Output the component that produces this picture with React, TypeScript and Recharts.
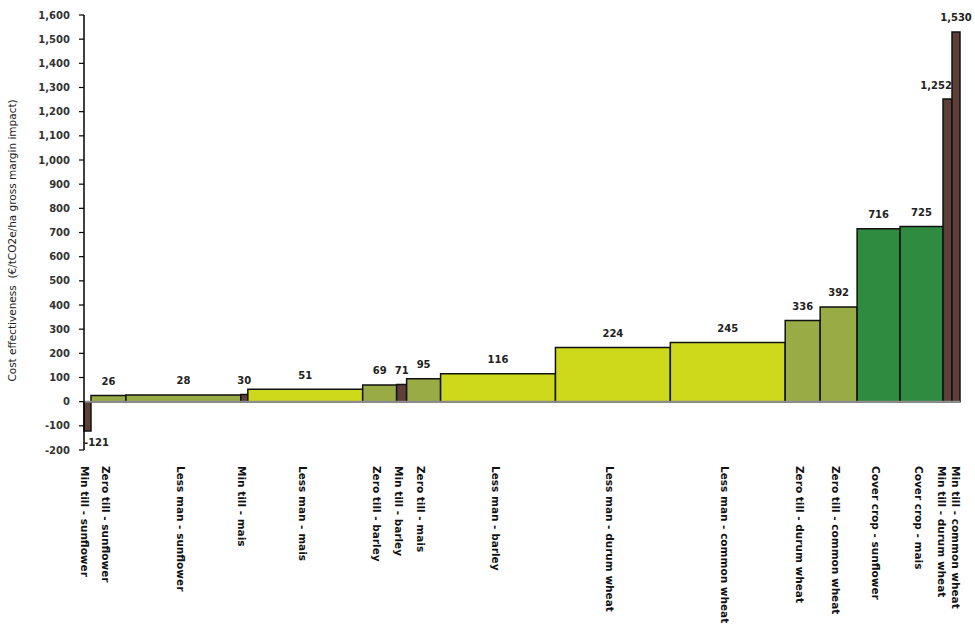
import React from 'react';
import {
  ComposedChart,
  XAxis,
  YAxis,
  ReferenceArea,
  ReferenceLine,
  Scatter,
  Label,
} from 'recharts';

// Measures in the order they appear along the curve
const categories = [
  'Min till - sunflower',
  'Zero till - sunflower',
  'Less man - sunflower',
  'Min till - mais',
  'Less man - mais',
  'Zero till - barley',
  'Min till - barley',
  'Zero till - mais',
  'Less man - barley',
  'Less man - durum wheat',
  'Less man - common wheat',
  'Zero till - durum wheat',
  'Zero till - common wheat',
  'Cover crop - sunflower',
  'Cover crop - mais',
  'Min till - durum wheat',
  'Min till - common wheat',
];

// Cost effectiveness (€/tCO2e/ha gross margin impact)
const values = [-121, 26, 28, 30, 51, 69, 71, 95, 116, 224, 245, 336, 392, 716, 725, 1252, 1530];

// Abatement potential (bar widths, relative units)
const widths = [7, 35, 115, 7, 115, 34, 10, 34, 115, 115, 115, 35, 37, 43, 43, 9, 8];

// Colour group of each bar as drawn
const groups = [
  'min', 'zero', 'zero', 'min', 'less', 'zero', 'min', 'zero', 'less',
  'less', 'less', 'zero', 'zero', 'cover', 'cover', 'min', 'min',
];

const yTicks = [-200, -100, 0, 100, 200, 300, 400, 500, 600, 700, 800, 900, 1000, 1100, 1200, 1300, 1400, 1500, 1600];

const groupColors: Record<string, string> = {
  min: '#5e4038',
  zero: '#99ab45',
  less: '#cfd91c',
  cover: '#2f8b3f',
};

const rows = (() => {
  let acc = 0;
  return categories.map((name, i) => {
    const start = acc;
    acc += widths[i];
    return { name, value: values[i], start, end: acc, mid: (start + acc) / 2, group: groups[i] };
  });
})();
const total = widths.reduce((a, b) => a + b, 0);

// category label positions: bar centres, nudged apart when two are too close to read
const MIN_GAP = 14;
const labelX = rows.map((r) => r.mid);
for (let i = 1; i < labelX.length; i++) {
  if (labelX[i] - labelX[i - 1] < MIN_GAP) {
    const c = (labelX[i] + labelX[i - 1]) / 2;
    labelX[i - 1] = c - MIN_GAP / 2;
    labelX[i] = c + MIN_GAP / 2;
  }
}
const labelByPos = new Map(labelX.map((x, i) => [x, rows[i].name]));

const fmt = (v: number) => v.toLocaleString('en-US');

const FONT = '"DejaVu Sans", Verdana, sans-serif';

const CategoryTick = (props: any) => {
  const { x, y, payload } = props;
  const text = labelByPos.get(payload.value) || '';
  return (
    <text
      x={0}
      y={0}
      dy="0.62em"
      transform={`translate(${x},${y + 8}) rotate(90)`}
      textAnchor="start"
      fontSize={10.5}
      fontWeight="bold"
      fontFamily={FONT}
      fill="#111"
    >
      {text}
    </text>
  );
};

const YTitle = (props: any) => {
  const vb = props.viewBox || { x: 0, y: 0, width: 0, height: 0 };
  const cx = 12;
  const cy = vb.y + vb.height / 2 + 8;
  return (
    <text
      x={cx}
      y={cy}
      transform={`rotate(-90, ${cx}, ${cy})`}
      textAnchor="middle"
      dominantBaseline="central"
      fontSize={10.5}
      fontFamily={FONT}
      fill="#222"
    >
      Cost effectiveness&#160;&#160;(€/tCO2e/ha gross margin impact)
    </text>
  );
};

const makeValueLabel = (i: number) => (props: any) => {
  const vb = props.viewBox || { x: 0, y: 0, width: 0, height: 0 };
  const r = rows[i];
  const next = rows[i + 1];
  const left = vb.x;
  const w = Math.abs(vb.width);
  const top = Math.min(vb.y, vb.y + vb.height);
  const bottom = Math.max(vb.y, vb.y + vb.height);
  const common = {
    fontSize: 10,
    fontWeight: 'bold' as const,
    fontFamily: FONT,
    fill: '#222',
  };
  if (r.value < 0) {
    return (
      <text x={left} y={bottom + 12} textAnchor="start" dominantBaseline="central" {...common}>
        {fmt(r.value)}
      </text>
    );
  }
  const squeezed = w < 12 && next && next.value > r.value && next.end - next.start < 12;
  return (
    <text
      x={squeezed ? left + w : left + w / 2}
      y={top - 14}
      textAnchor={squeezed ? 'end' : 'middle'}
      dominantBaseline="central"
      {...common}
    >
      {fmt(r.value)}
    </text>
  );
};

export default function App() {
  return (
    <div style={{ position: 'absolute', left: 0, top: 0, background: '#fff' }}>
      <ComposedChart
        width={975}
        height={624}
        data={rows}
        margin={{ top: 15, right: 15, bottom: 0, left: 0 }}
      >
        <XAxis
          type="number"
          dataKey="mid"
          domain={[0, total]}
          ticks={labelX}
          interval={0}
          axisLine={false}
          tickLine={false}
          height={174}
          tick={<CategoryTick />}
          allowDataOverflow
        />
        <YAxis
          type="number"
          domain={[-200, 1600]}
          ticks={yTicks}
          interval={0}
          width={84}
          tickSize={5}
          tickMargin={9}
          tickFormatter={fmt}
          axisLine={{ stroke: '#000', strokeWidth: 1.5 }}
          tickLine={{ stroke: '#000', strokeWidth: 1.2 }}
          tick={{ fontSize: 10, fontWeight: 'bold', fontFamily: FONT, fill: '#333' }}
        >
          <Label content={<YTitle />} />
        </YAxis>
        <ReferenceLine y={0} stroke="#8c8c8c" strokeWidth={2} />
        {rows.map((r, i) => (
          <ReferenceArea
            key={i}
            x1={r.start}
            x2={r.end}
            y1={0}
            y2={r.value}
            fill={groupColors[r.group]}
            fillOpacity={1}
            stroke="#111"
            strokeWidth={1.5}
            label={makeValueLabel(i)}
          />
        ))}
        <Scatter dataKey="value" shape={() => null} isAnimationActive={false} />
      </ComposedChart>
    </div>
  );
}
